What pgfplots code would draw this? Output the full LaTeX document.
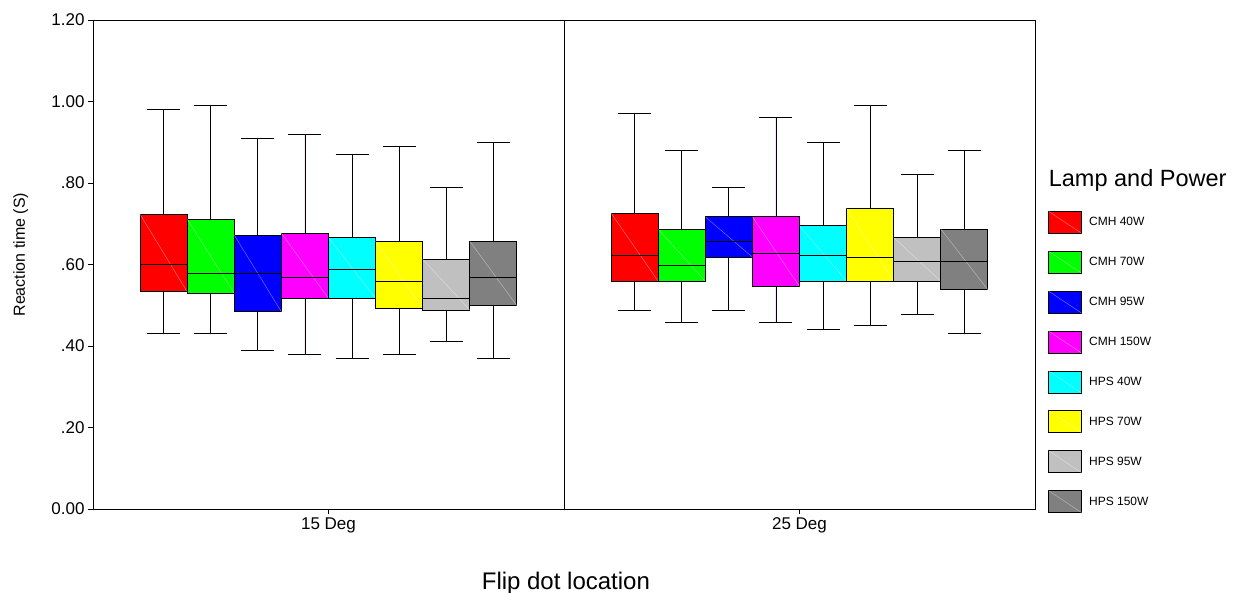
\documentclass[border=0pt]{standalone}
\usepackage{pgfplots}
\pgfplotsset{compat=1.18}
\usepgfplotslibrary{statistics}
\usepackage{fontspec}
\setmainfont{Liberation Sans}
\definecolor{cred}{RGB}{255,0,0}
\definecolor{cgreen}{RGB}{0,255,0}
\definecolor{cblue}{RGB}{0,0,255}
\definecolor{cmag}{RGB}{255,0,255}
\definecolor{ccyan}{RGB}{0,255,255}
\definecolor{cyel}{RGB}{255,255,0}
\definecolor{lgray}{RGB}{192,192,192}
\definecolor{dgray}{RGB}{128,128,128}
% pos, color, lower whisker, q1, median, q3, upper whisker
\newcommand{\bp}[7]{%
  \addplot[forget plot, draw=black, line width=0.9pt, fill=#2,
    boxplot prepared={draw position=#1, lower whisker=#3, lower quartile=#4,
      median=#5, upper quartile=#6, upper whisker=#7,
      box extend=0.1, whisker extend=0.07}] coordinates {};
}
\begin{document}
\begin{tikzpicture}
\useasboundingbox (-93pt,-84pt) rectangle (1140pt,509pt);
\begin{axis}[
  scale only axis, width=942pt, height=489pt,
  xmin=0, xmax=2, ymin=0, ymax=1.2,
  clip=false,
  boxplot/draw direction=y,
  axis line style={black, line width=0.8pt},
  xtick={0.5,1.5}, xticklabels={15 Deg, 25 Deg},
  ytick={0,0.2,0.4,0.6,0.8,1.0,1.2},
  yticklabels={0.00,.20,.40,.60,.80,1.00,1.20},
  tick align=outside, xtick pos=left, ytick pos=left,
  major tick length=5pt,
  tick style={black, line width=0.8pt},
  ticklabel style={font=\fontsize{17}{20}\selectfont},
  extra x ticks={1}, extra x tick labels={},
  extra x tick style={grid=major, major grid style={black, line width=0.8pt}, major tick length=0pt},
  xlabel={Flip dot location},
  xlabel style={font=\fontsize{24}{28}\selectfont, at={(axis description cs:0.502,-0.152)}, anchor=center},
  ylabel={Reaction time (S)},
  ylabel style={font=\fontsize{16}{20}\selectfont, at={(axis description cs:-0.0766,0.52)}, anchor=center},
  boxplot/draw/box/.code={%
    \draw[/pgfplots/boxplot/every box/.try]
      (boxplot box cs:\pgfplotsboxplotvalue{lower quartile},0)
      rectangle
      (boxplot box cs:\pgfplotsboxplotvalue{upper quartile},1);
    \draw[white, opacity=0.35, line width=0.5pt]
      (boxplot box cs:\pgfplotsboxplotvalue{upper quartile},0) --
      (boxplot box cs:\pgfplotsboxplotvalue{lower quartile},1);
  },
  legend image code/.code={%
    \draw[#1, draw=black, line width=0.9pt] (0pt,-11pt) rectangle (33pt,11pt);
    \draw[white, opacity=0.35, line width=0.5pt] (0pt,11pt) -- (33pt,-11pt);
  },
  legend style={at={(axis description cs:1.0138,0.610)}, anchor=north west,
    draw=none, fill=none, inner sep=0pt, row sep=17pt, column sep=5pt,
    font=\fontsize{12}{14}\selectfont},
  legend cell align=left,
]
% 15 Deg
\bp{0.15}{cred}{0.43}{0.533}{0.600}{0.723}{0.98}
\bp{0.25}{cgreen}{0.43}{0.529}{0.577}{0.711}{0.99}
\bp{0.35}{cblue}{0.39}{0.484}{0.577}{0.672}{0.91}
\bp{0.45}{cmag}{0.38}{0.517}{0.568}{0.677}{0.92}
\bp{0.55}{ccyan}{0.37}{0.517}{0.589}{0.666}{0.87}
\bp{0.65}{cyel}{0.38}{0.493}{0.559}{0.657}{0.89}
\bp{0.75}{lgray}{0.41}{0.488}{0.517}{0.613}{0.79}
\bp{0.85}{dgray}{0.37}{0.499}{0.568}{0.657}{0.90}
% 25 Deg
\bp{1.15}{cred}{0.487}{0.559}{0.622}{0.726}{0.97}
\bp{1.25}{cgreen}{0.458}{0.559}{0.598}{0.686}{0.88}
\bp{1.35}{cblue}{0.487}{0.618}{0.657}{0.717}{0.79}
\bp{1.45}{cmag}{0.458}{0.546}{0.627}{0.717}{0.96}
\bp{1.55}{ccyan}{0.44}{0.559}{0.622}{0.695}{0.90}
\bp{1.65}{cyel}{0.45}{0.559}{0.618}{0.738}{0.99}
\bp{1.75}{lgray}{0.478}{0.559}{0.607}{0.666}{0.82}
\bp{1.85}{dgray}{0.43}{0.538}{0.607}{0.687}{0.88}
\addlegendimage{fill=cred}\addlegendentry{CMH 40W}
\addlegendimage{fill=cgreen}\addlegendentry{CMH 70W}
\addlegendimage{fill=cblue}\addlegendentry{CMH 95W}
\addlegendimage{fill=cmag}\addlegendentry{CMH 150W}
\addlegendimage{fill=ccyan}\addlegendentry{HPS 40W}
\addlegendimage{fill=cyel}\addlegendentry{HPS 70W}
\addlegendimage{fill=lgray}\addlegendentry{HPS 95W}
\addlegendimage{fill=dgray}\addlegendentry{HPS 150W}
\node[anchor=base west, font=\fontsize{23.5}{27}\selectfont, inner sep=0pt]
  at (axis description cs:1.0145,0.660) {Lamp and Power};
\end{axis}
\end{tikzpicture}
\end{document}
